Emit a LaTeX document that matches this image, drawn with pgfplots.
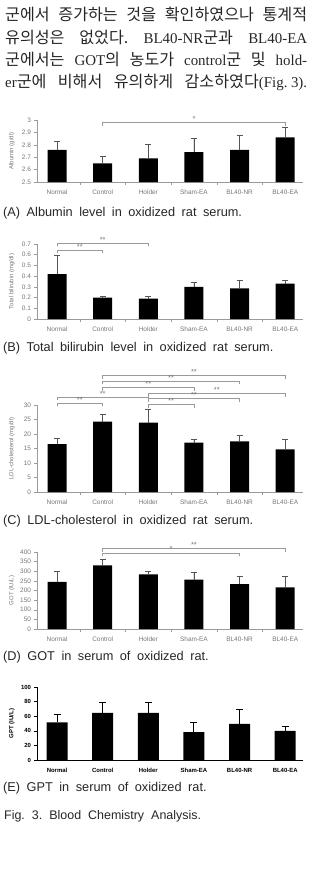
\documentclass[border=0pt]{standalone}
\usepackage{fontspec}
\setmainfont{Liberation Serif}
\newfontfamily\kr[Scale=1.08]{Noto Sans CJK KR}
\newfontfamily\sans{Liberation Sans}
\usepackage{pgfplots}
\pgfplotsset{compat=1.18}
\frenchspacing

\definecolor{axgray}{HTML}{9A9A9A}
\definecolor{lblgray}{HTML}{767676}
\definecolor{errgray}{HTML}{555555}
\definecolor{txt}{HTML}{262626}

\pgfplotsset{
  chart/.style={
    scale only axis, width=266bp,
    xmin=-0.44, xmax=5.39,
    axis x line*=bottom, axis y line*=left,
    axis line style={draw=axgray, line width=0.6bp, -},
    xtick={0,...,5},
    xticklabels={Normal,Control,Holder,Sham-EA,BL40-NR,BL40-EA},
    minor xtick={0.5,1.5,2.5,3.5,4.5},
    tick align=outside,
    major x tick style={draw=none},
    minor x tick style={draw=axgray, line width=0.5bp},
    y tick style={draw=axgray, line width=0.5bp},
    major tick length=2.5bp, minor tick length=2.5bp,
    tick label style={font=\sans\fontsize{6.5}{7}\selectfont, text=lblgray},
    xticklabel style={yshift=-2bp},
    /pgf/number format/assume math mode=true,
    every axis y label/.style={at={(axis description cs:-0.095,0.5)}, rotate=90,
      anchor=center, font=\sans\fontsize{6}{7}\selectfont, text=lblgray},
    clip mode=individual,
  },
  bars/.style={ybar, bar width=19bp, fill=black, draw=none,
    error bars/y dir=plus, error bars/y explicit,
    error bars/error bar style={draw=errgray, line width=0.7bp},
    error bars/error mark options={rotate=90, mark size=3bp, draw=errgray, line width=0.7bp}},
}
\tikzset{
  brk/.style={draw=axgray, line width=0.5bp},
  sig/.style={anchor=south, inner sep=0.6bp, font=\sans\fontsize{7.5}{7.5}\selectfont, text=lblgray},
}

\newcommand\bodyline[2]{%
  \node[anchor=base west, inner sep=0, text=txt, font=\fontsize{15}{17}\selectfont]
    at (5bp,-#1bp) {\makebox[302bp][s]{#2}};}
\newcommand\figcap[2]{%
  \node[anchor=base west, inner sep=0, text=txt,
    font=\sans\fontsize{12.8}{14}\selectfont] at (3bp,-#1bp) {\spaceskip=6.5bp #2};}
% significance bracket: from x=#1 to x=#2 at height #3, end ticks down to #4, label #5 at #6
\newcommand\sigbrk[6]{%
  \draw[brk] (axis cs:#1,#4) -- (axis cs:#1,#3) -- (axis cs:#2,#3) -- (axis cs:#2,#4);
  \node[sig] at (axis cs:#6,#3) {#5};}

\begin{document}
\begin{tikzpicture}
\path[use as bounding box] (0,0) rectangle (313bp,-877bp);

% running text above the figure
\bodyline{20}{\kr 군에서 증가하는 것을 확인하였으나 통계적}
\bodyline{43}{{\kr 유의성은 없었다.} BL40-NR{\kr 군과} BL40-EA}
\bodyline{65}{{\kr 군에서는} GOT{\kr 의 농도가} control{\kr 군 및} hold-}
\bodyline{87}{er{\kr 군에 비해서 유의하게 감소하였다}\mbox{(Fig.\kern3.5pt3).}}

% (A) Albumin
\begin{axis}[chart, at={(37bp,-182bp)}, height=62bp,
  ymin=2.5, ymax=3, ytick={2.5,2.6,2.7,2.8,2.9,3},
  ylabel={Albumin (g/dl)}]
\addplot[bars] coordinates {
  (0,2.76) +- (0,0.07)
  (1,2.65) +- (0,0.06)
  (2,2.69) +- (0,0.11)
  (3,2.74) +- (0,0.11)
  (4,2.76) +- (0,0.12)
  (5,2.86) +- (0,0.08)};
\sigbrk{1}{5}{2.985}{2.955}{*}{3}
\end{axis}
\figcap{216}{(A) Albumin level in oxidized rat serum.}

% (B) Total bilirubin
\begin{axis}[chart, at={(37bp,-319bp)}, height=75bp,
  ymin=0, ymax=0.7, ytick={0,0.1,0.2,0.3,0.4,0.5,0.6,0.7},
  ylabel={Total bilirubin (mg/dl)}]
\addplot[bars] coordinates {
  (0,0.42) +- (0,0.17)
  (1,0.20) +- (0,0.015)
  (2,0.19) +- (0,0.02)
  (3,0.30) +- (0,0.04)
  (4,0.285) +- (0,0.075)
  (5,0.33) +- (0,0.03)};
\sigbrk{0}{2}{0.706}{0.678}{**}{1}
\sigbrk{0}{1}{0.645}{0.615}{**}{0.5}
\end{axis}
\figcap{351}{(B) Total bilirubin level in oxidized rat serum.}

% (C) LDL-cholesterol
\begin{axis}[chart, at={(37bp,-492bp)}, height=87bp,
  ymin=0, ymax=30, ytick={0,5,10,15,20,25,30},
  ylabel={LDL-cholesterol (mg/dl)}]
\addplot[bars] coordinates {
  (0,16.5) +- (0,2.1)
  (1,24.3) +- (0,2.6)
  (2,23.9) +- (0,4.5)
  (3,17.0) +- (0,1.1)
  (4,17.5) +- (0,2.0)
  (5,14.7) +- (0,3.4)};
\sigbrk{1}{5}{40.3}{39.1}{**}{3}
\sigbrk{1}{4}{38.3}{37.1}{**}{2.5}
\sigbrk{1}{3}{36.2}{35.0}{**}{2}
\sigbrk{2}{5}{34.1}{32.9}{**}{3.5}
\sigbrk{0}{2}{32.8}{31.6}{**}{1}
\sigbrk{2}{4}{32.4}{31.2}{**}{3}
\sigbrk{0}{1}{30.7}{29.5}{**}{0.5}
\sigbrk{2}{3}{30.3}{29.1}{**}{2.5}
\end{axis}
\figcap{524}{(C) LDL-cholesterol in oxidized rat serum.}

% (D) GOT
\begin{axis}[chart, at={(37bp,-629bp)}, height=77bp,
  ymin=0, ymax=400, ytick={0,50,100,150,200,250,300,350,400},
  ylabel={GOT (IU/L)}]
\addplot[bars] coordinates {
  (0,245) +- (0,55)
  (1,331) +- (0,31)
  (2,284) +- (0,16)
  (3,257) +- (0,36)
  (4,233) +- (0,43)
  (5,216) +- (0,55)};
\sigbrk{1}{5}{419}{399}{**}{3}
\sigbrk{1}{4}{396}{379}{*}{2.5}
\end{axis}
\figcap{660}{(D) GOT in serum of oxidized rat.}

% (E) GPT
\begin{axis}[chart, at={(37bp,-760bp)}, height=73bp,
  ymin=0, ymax=100, ytick={0,20,40,60,80,100},
  axis line style={draw=black, line width=0.7bp, -},
  y tick style={draw=black}, minor x tick style={draw=none},
  tick label style={font=\sans\bfseries\fontsize{6}{7}\selectfont, text=black},
  every axis y label/.append style={font=\sans\bfseries\fontsize{6}{7}\selectfont, text=black},
  ylabel={GPT (IU/L)}]
\addplot[bars, bar width=21bp,
  error bars/error bar style={draw=black, line width=1bp},
  error bars/error mark options={rotate=90, mark size=3.5bp, draw=black, line width=1bp}]
  coordinates {
  (0,51.4) +- (0,11.0)
  (1,64.7) +- (0,14.2)
  (2,64.7) +- (0,14.2)
  (3,38.1) +- (0,12.8)
  (4,49.5) +- (0,19.3)
  (5,39.9) +- (0,6.0)};
\end{axis}
\figcap{791}{(E) GPT in serum of oxidized rat.}

\node[anchor=base west, inner sep=0, text=txt, font=\sans\fontsize{12.5}{14}\selectfont]
  at (4bp,-819bp) {\spaceskip=7bp Fig. 3. Blood Chemistry Analysis.};
\end{tikzpicture}
\end{document}
